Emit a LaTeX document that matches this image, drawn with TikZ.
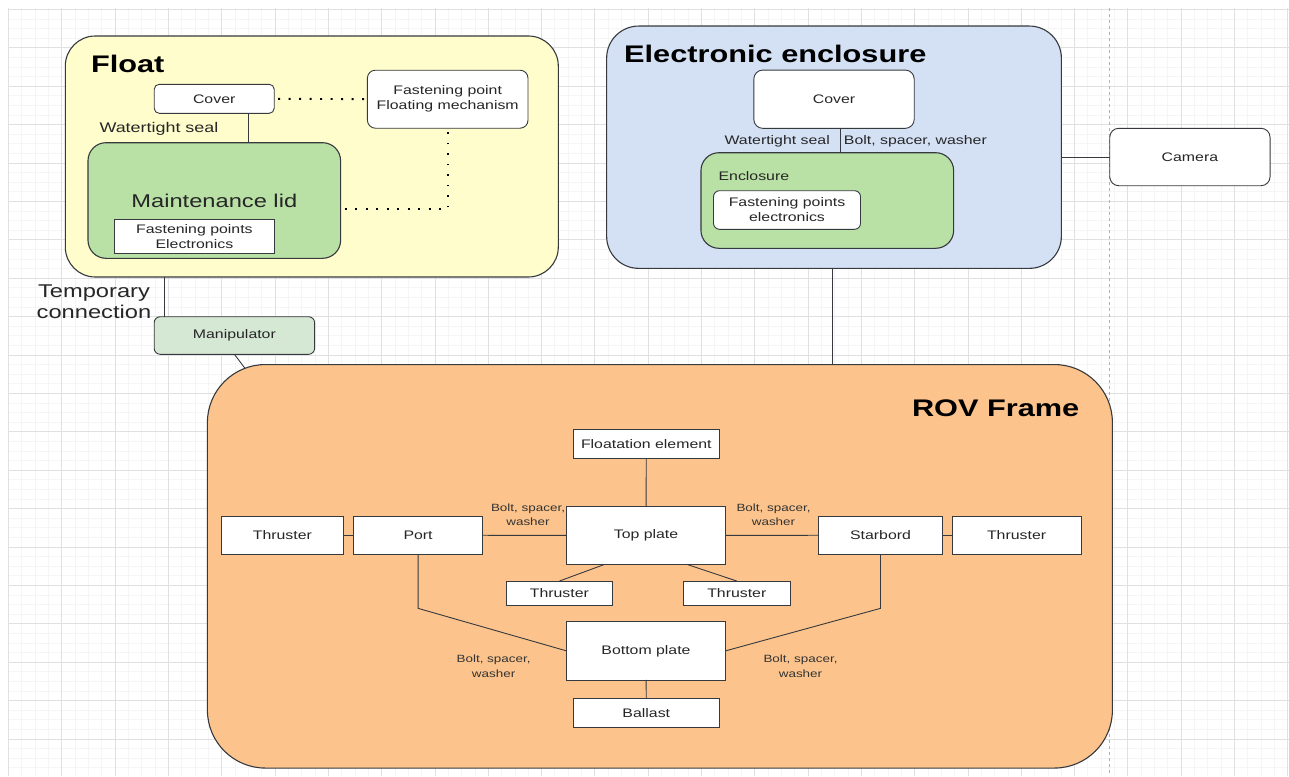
\documentclass[tikz,border=0pt]{standalone}
\usepackage{fontspec}
\setmainfont{Liberation Sans}[FakeStretch=1.28]
\usetikzlibrary{positioning,backgrounds}
\definecolor{Line}{HTML}{36393D}
\definecolor{Sand}{HTML}{FFFDCC}
\definecolor{Leaf}{HTML}{B9E0A5}
\definecolor{Sage}{HTML}{D5E8D4}
\definecolor{Ice}{HTML}{D4E1F5}
\definecolor{Peach}{HTML}{FCC48C}
\definecolor{GridMaj}{HTML}{E0E0E0}
\definecolor{GridMin}{HTML}{F5F5F5}

\begin{document}
\begin{tikzpicture}[
      x=1pt, y=-1pt,
      every node/.style={inner sep=0pt, outer sep=0pt},
      txt/.style={font=\fontsize{12.4}{15}\selectfont, text=black!85},
      box/.style={txt, draw=Line, line width=0.9pt, fill=white,
                  rounded corners=6pt, align=center},
      sq/.style={txt, draw=Line, line width=0.9pt, fill=white, align=center},
      group/.style={draw=Line, line width=1.1pt},
      head/.style={font=\fontsize{24}{28}\selectfont\bfseries, text=black},
      fine/.style={font=\fontsize{10.5}{14.3}\selectfont, align=center, text=black!80},
      link/.style={draw=Line, line width=0.9pt},
      loose/.style={draw=black, line width=1.9pt, dash pattern=on 1.9pt off 8.6pt},
      gmin/.style={draw=GridMin, line width=0.5pt},
      gmaj/.style={draw=GridMaj, line width=0.6pt}
    ]
      \useasboundingbox (0,0) rectangle (1289,776);

      \begin{scope}[on background layer]
        \fill[white] (0,0) rectangle (1289,776);
        \foreach \i in {0,...,96} \draw[gmin] ({8.4+13.325*\i},8) -- ({8.4+13.325*\i},776);
        \foreach \j in {0,...,80} \draw[gmin] (8,{9.3+9.6*\j}) -- (1289,{9.3+9.6*\j});
        \foreach \i in {0,...,24} \draw[gmaj] ({8.4+53.3*\i},8) -- ({8.4+53.3*\i},776);
        \foreach \j in {0,...,20} \draw[gmaj] (8,{9.3+38.4*\j}) -- (1289,{9.3+38.4*\j});
        \draw[gmaj, draw=black!30, dashed] (1109.7,8) -- (1109.7,776);
      \end{scope}

      % Float
      \node[group, fill=Sand, rounded corners=30pt,
            minimum width=493pt, minimum height=241pt] (flt) at (311.8,156.5) {};
      \node[head, anchor=base west] (fltt) at (91,72.7) {Float};
      \node[box, rounded corners=5pt, minimum width=120pt, minimum height=29pt] (fcov) at (214.2,98.8) {Cover};
      \node[box, rounded corners=8pt, minimum width=160.6pt, minimum height=58pt] (ffp) at (447.7,99.2)
            {Fastening point\\Floating mechanism};
      \node[txt, anchor=base west, font=\fontsize{14}{16}\selectfont] (fseal) at (99.5,132) {Watertight seal};
      \draw[link] (fcov.south -| 248,0) -- (248,142.7);
      \node[group, fill=Leaf, rounded corners=18pt, minimum width=252.6pt, minimum height=115.6pt,
            font=\fontsize{18.5}{22}\selectfont, text=black!85] (mlid) at (214.3,200.5) {Maintenance lid};
      \node[sq, minimum width=160.8pt, minimum height=34pt] (mfp) at (194.4,236.3) {Fastening points\\Electronics};
      \draw[loose] ([xshift=4pt]fcov.east) -- (ffp.west);
      \draw[loose] ([xshift=4pt, yshift=-8.8pt]mlid.east) -| (ffp.south);

      \node[txt, align=center, font=\fontsize{18.5}{21.5}\selectfont] (tmp) at (94,301.6) {Temporary\\connection};
      \node[box, fill=Sage, minimum width=160.4pt, minimum height=37.6pt] (man) at (234.4,335.5) {Manipulator};
      \draw[link] ([xshift=10.4pt]man.north west) -- ([xshift=10.4pt]man.north west |- flt.south);

      % Electronic enclosure
      \node[group, fill=Ice, rounded corners=32pt,
            minimum width=454.7pt, minimum height=242.3pt] (ee) at (834,147.2) {};
      \node[head, anchor=base west] (eet) at (624.2,62.7) {Electronic enclosure};
      \node[box, rounded corners=9pt, minimum width=160.4pt, minimum height=58.3pt] (ecov) at (834,99.2) {Cover};
      \node[group, fill=Leaf, rounded corners=18pt,
            minimum width=252.7pt, minimum height=95.6pt] (encl) at (827.3,200.5) {};
      \draw[link] ([xshift=6.8pt]ecov.south) -- ([xshift=6.8pt]ecov.south |- encl.north);
      \node[txt, anchor=base west] (enct) at (718.6,180) {Enclosure};
      \node[box, minimum width=147pt, minimum height=38.6pt] (efp) at (787,210) {Fastening points\\electronics};
      \node[txt, anchor=base east] (eseal) at (829.8,144) {Watertight seal};
      \node[txt, anchor=base west] (ebolt) at (843.9,144) {Bolt, spacer, washer};

      \node[box, rounded corners=9pt, minimum width=160.3pt, minimum height=57.4pt] (cam) at (1189.9,157) {Camera};
      \draw[link] (cam.west) -- (cam.west -| ee.east);

      % ROV frame
      \begin{scope}[on background layer]
        \draw[link] (man.south) -- (246.8,370.7);
      \end{scope}
      \node[group, fill=Peach, rounded corners=58pt,
            minimum width=905pt, minimum height=403.5pt] (rov) at (659.9,566.3) {};
      \draw[link] ([xshift=-1.1pt]ee.south) -- ([xshift=-1.1pt]ee.south |- rov.north);
      \node[head, anchor=base east] (rovt) at (1079.3,416.7) {ROV Frame};

      \node[sq, minimum width=159.5pt, minimum height=57.7pt] (top) at (646,535.5) {Top plate};
      \node[sq, minimum width=146.4pt, minimum height=29.3pt] (flel) at (646.3,443.7) {Floatation element};
      \node[sq, minimum width=128.6pt, minimum height=38.3pt] (port) at (418.1,535.2) {Port};
      \node[sq, minimum width=122.3pt, minimum height=38.3pt, left=10.3pt of port] (thl) {Thruster};
      \node[sq, minimum width=123.5pt, minimum height=38.3pt] (star) at (880.5,535.2) {Starbord};
      \node[sq, minimum width=129.2pt, minimum height=38.3pt, right=9.7pt of star] (thr) {Thruster};
      \node[sq, minimum width=106.7pt, minimum height=24.3pt] (tha) at (559.4,593.2) {Thruster};
      \node[sq, minimum width=106.7pt, minimum height=24.3pt] (thb) at (736.8,593.2) {Thruster};
      \node[sq, minimum width=159.5pt, minimum height=58.3pt] (bot) at (646,650.8) {Bottom plate};
      \node[sq, minimum width=146.4pt, minimum height=29pt] (bal) at (646.3,712.8) {Ballast};

      \draw[link] (flel) -- (top);
      \draw[link] (thl) -- (port);
      \draw[link] (port) -- (top);
      \draw[link] (top) -- (star);
      \draw[link] (star) -- (thr);
      \draw[link] ([xshift=38.4pt]top.south west) -- (tha.north);
      \draw[link] ([xshift=-38.9pt]top.south east) -- (thb.north);
      \draw[link] (port.south) -- ++(0,54) -- (bot.west);
      \draw[link] (star.south) -- ++(0,54) -- (bot.east);
      \draw[link] (bot) -- (bal);

      \node[fine] (bpl) at (528,515) {Bolt, spacer,\\washer};
      \node[fine] (bpr) at (773.5,515) {Bolt, spacer,\\washer};
      \node[fine] (bbl) at (493.6,666.3) {Bolt, spacer,\\washer};
      \node[fine] (bbr) at (800.5,666.3) {Bolt, spacer,\\washer};
    \end{tikzpicture}
\end{document}
